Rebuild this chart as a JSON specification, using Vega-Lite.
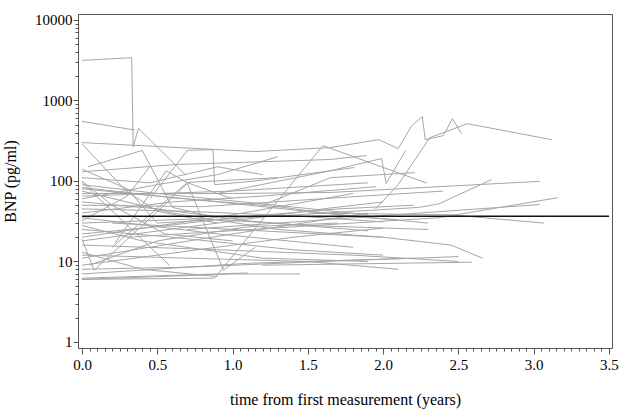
{
  "$schema": "https://vega.github.io/schema/vega-lite/v6.json",
  "width": 534,
  "height": 334,
  "autosize": {"type": "none"},
  "padding": {"left": 78, "top": 14, "right": 12, "bottom": 64},
  "background": "white",
  "config": {
    "view": {"stroke": "#555555", "strokeWidth": 1},
    "font": "Liberation Serif",
    "axis": {"labelFont": "Liberation Serif", "titleFont": "Liberation Serif", "labelColor": "#000", "titleColor": "#000", "titleFontWeight": "normal", "domainColor": "#555", "tickColor": "#555", "grid": false}
  },
  "datasets": {
    "subjects": [
      {"id": 1, "t": 0, "v": 3150}, {"id": 1, "t": 0.33, "v": 3400}, {"id": 1, "t": 0.34, "v": 265}, {"id": 1, "t": 0.375, "v": 450}, {"id": 1, "t": 0.69, "v": 118},
      {"id": 2, "t": 0, "v": 550}, {"id": 2, "t": 0.35, "v": 430},
      {"id": 3, "t": 0, "v": 300}, {"id": 3, "t": 1.15, "v": 232}, {"id": 3, "t": 1.65, "v": 260}, {"id": 3, "t": 1.97, "v": 326}, {"id": 3, "t": 2.1, "v": 253}, {"id": 3, "t": 2.19, "v": 487}, {"id": 3, "t": 2.26, "v": 630}, {"id": 3, "t": 2.28, "v": 326}, {"id": 3, "t": 2.4, "v": 366}, {"id": 3, "t": 2.46, "v": 594}, {"id": 3, "t": 2.52, "v": 388},
      {"id": 4, "t": 1.95, "v": 45}, {"id": 4, "t": 2.1, "v": 90}, {"id": 4, "t": 2.31, "v": 346}, {"id": 4, "t": 2.56, "v": 515}, {"id": 4, "t": 3.12, "v": 326},
      {"id": 5, "t": 0, "v": 6}, {"id": 5, "t": 0.88, "v": 6.2}, {"id": 5, "t": 1.6, "v": 275}, {"id": 5, "t": 2.29, "v": 94},
      {"id": 6, "t": 0, "v": 290}, {"id": 6, "t": 0.29, "v": 76}, {"id": 6, "t": 0.5, "v": 42}, {"id": 6, "t": 0.9, "v": 30},
      {"id": 7, "t": 0.45, "v": 60}, {"id": 7, "t": 0.7, "v": 240}, {"id": 7, "t": 0.87, "v": 245}, {"id": 7, "t": 0.88, "v": 90}, {"id": 7, "t": 1.15, "v": 100}, {"id": 7, "t": 1.81, "v": 147},
      {"id": 8, "t": 0, "v": 130}, {"id": 8, "t": 0.62, "v": 160}, {"id": 8, "t": 1.65, "v": 185}, {"id": 8, "t": 1.89, "v": 207},
      {"id": 9, "t": 0, "v": 70}, {"id": 9, "t": 1.0, "v": 70}, {"id": 9, "t": 1.65, "v": 72}, {"id": 9, "t": 3.04, "v": 99},
      {"id": 10, "t": 0.9, "v": 70}, {"id": 10, "t": 1.65, "v": 134}, {"id": 10, "t": 1.99, "v": 190}, {"id": 10, "t": 2.02, "v": 93}, {"id": 10, "t": 2.15, "v": 240},
      {"id": 11, "t": 1.2, "v": 50}, {"id": 11, "t": 1.65, "v": 110}, {"id": 11, "t": 2.21, "v": 127},
      {"id": 12, "t": 0.5, "v": 30}, {"id": 12, "t": 2.24, "v": 47}, {"id": 12, "t": 2.37, "v": 52}, {"id": 12, "t": 2.72, "v": 104},
      {"id": 13, "t": 0.3, "v": 20}, {"id": 13, "t": 2.37, "v": 35}, {"id": 13, "t": 3.16, "v": 62},
      {"id": 14, "t": 0.7, "v": 25}, {"id": 14, "t": 3.04, "v": 51},
      {"id": 15, "t": 1.5, "v": 40}, {"id": 15, "t": 2.45, "v": 38}, {"id": 15, "t": 3.07, "v": 30},
      {"id": 16, "t": 0.2, "v": 30}, {"id": 16, "t": 2.0, "v": 20}, {"id": 16, "t": 2.45, "v": 16}, {"id": 16, "t": 2.66, "v": 11},
      {"id": 17, "t": 1.2, "v": 9}, {"id": 17, "t": 2.59, "v": 9.8},
      {"id": 20, "t": 0, "v": 83}, {"id": 20, "t": 0.6, "v": 62}, {"id": 20, "t": 1.3, "v": 48}, {"id": 20, "t": 1.8, "v": 36}, {"id": 20, "t": 2.1, "v": 33},
      {"id": 21, "t": 0, "v": 90}, {"id": 21, "t": 0.5, "v": 70}, {"id": 21, "t": 1.2, "v": 52}, {"id": 21, "t": 1.9, "v": 38},
      {"id": 22, "t": 0, "v": 80}, {"id": 22, "t": 0.9, "v": 55}, {"id": 22, "t": 1.6, "v": 40}, {"id": 22, "t": 2.3, "v": 30},
      {"id": 23, "t": 0, "v": 20}, {"id": 23, "t": 1.0, "v": 38}, {"id": 23, "t": 1.8, "v": 70},
      {"id": 24, "t": 0, "v": 18}, {"id": 24, "t": 0.9, "v": 30}, {"id": 24, "t": 1.6, "v": 45}, {"id": 24, "t": 2.0, "v": 55},
      {"id": 25, "t": 0, "v": 6}, {"id": 25, "t": 1.0, "v": 7}, {"id": 25, "t": 1.45, "v": 7},
      {"id": 26, "t": 0, "v": 19}, {"id": 26, "t": 0.08, "v": 7.8}, {"id": 26, "t": 0.7, "v": 93}, {"id": 26, "t": 0.94, "v": 7.8}, {"id": 26, "t": 1.15, "v": 15},
      {"id": 27, "t": 0, "v": 96}, {"id": 27, "t": 0.58, "v": 9},
      {"id": 28, "t": 0.22, "v": 17}, {"id": 28, "t": 0.56, "v": 134}, {"id": 28, "t": 0.7, "v": 95}, {"id": 28, "t": 1.0, "v": 60},
      {"id": 29, "t": 0.04, "v": 150}, {"id": 29, "t": 0.4, "v": 240}, {"id": 29, "t": 0.6, "v": 47}, {"id": 29, "t": 0.9, "v": 35},
      {"id": 30, "t": 0.2, "v": 15}, {"id": 30, "t": 0.7, "v": 96}, {"id": 30, "t": 1.3, "v": 110},
      {"id": 31, "t": 0, "v": 11}, {"id": 31, "t": 1.0, "v": 22}, {"id": 31, "t": 1.9, "v": 40},
      {"id": 32, "t": 0, "v": 12}, {"id": 32, "t": 0.7, "v": 11}, {"id": 32, "t": 1.5, "v": 10}, {"id": 32, "t": 2.1, "v": 8},
      {"id": 33, "t": 0, "v": 25}, {"id": 33, "t": 0.6, "v": 20}, {"id": 33, "t": 1.4, "v": 14}, {"id": 33, "t": 2.0, "v": 12},
      {"id": 34, "t": 0, "v": 30}, {"id": 34, "t": 0.8, "v": 34}, {"id": 34, "t": 1.5, "v": 28}, {"id": 34, "t": 2.3, "v": 25},
      {"id": 35, "t": 0, "v": 45}, {"id": 35, "t": 0.7, "v": 42}, {"id": 35, "t": 1.4, "v": 37}, {"id": 35, "t": 2.0, "v": 31},
      {"id": 36, "t": 0, "v": 55}, {"id": 36, "t": 0.5, "v": 45}, {"id": 36, "t": 1.1, "v": 32}, {"id": 36, "t": 1.9, "v": 24},
      {"id": 37, "t": 0, "v": 35}, {"id": 37, "t": 0.9, "v": 22}, {"id": 37, "t": 1.8, "v": 15},
      {"id": 38, "t": 0, "v": 28}, {"id": 38, "t": 0.4, "v": 18}, {"id": 38, "t": 1.2, "v": 11}, {"id": 38, "t": 1.9, "v": 10},
      {"id": 39, "t": 0, "v": 16}, {"id": 39, "t": 0.9, "v": 14}, {"id": 39, "t": 1.8, "v": 12}, {"id": 39, "t": 2.5, "v": 10},
      {"id": 40, "t": 0, "v": 9}, {"id": 40, "t": 0.5, "v": 12}, {"id": 40, "t": 1.4, "v": 20}, {"id": 40, "t": 2.0, "v": 26},
      {"id": 41, "t": 0, "v": 7}, {"id": 41, "t": 1.1, "v": 9.5}, {"id": 41, "t": 2.2, "v": 11},
      {"id": 42, "t": 0, "v": 60}, {"id": 42, "t": 0.5, "v": 90}, {"id": 42, "t": 0.9, "v": 120}, {"id": 42, "t": 1.3, "v": 200},
      {"id": 43, "t": 0, "v": 40}, {"id": 43, "t": 0.6, "v": 55}, {"id": 43, "t": 1.2, "v": 65}, {"id": 43, "t": 1.95, "v": 85},
      {"id": 44, "t": 0, "v": 50}, {"id": 44, "t": 0.8, "v": 48}, {"id": 44, "t": 1.7, "v": 62}, {"id": 44, "t": 2.4, "v": 75},
      {"id": 45, "t": 0, "v": 140}, {"id": 45, "t": 0.3, "v": 80}, {"id": 45, "t": 0.5, "v": 30},
      {"id": 46, "t": 0, "v": 100}, {"id": 46, "t": 0.2, "v": 50}, {"id": 46, "t": 0.55, "v": 22}, {"id": 46, "t": 1.0, "v": 18},
      {"id": 47, "t": 0, "v": 75}, {"id": 47, "t": 0.6, "v": 40}, {"id": 47, "t": 1.3, "v": 25}, {"id": 47, "t": 2.0, "v": 20},
      {"id": 48, "t": 0.05, "v": 9}, {"id": 48, "t": 0.5, "v": 18}, {"id": 48, "t": 1.1, "v": 27}, {"id": 48, "t": 1.7, "v": 30},
      {"id": 49, "t": 0, "v": 22}, {"id": 49, "t": 0.5, "v": 27}, {"id": 49, "t": 1.0, "v": 35}, {"id": 49, "t": 1.7, "v": 45}, {"id": 49, "t": 2.2, "v": 50},
      {"id": 50, "t": 0, "v": 13}, {"id": 50, "t": 0.4, "v": 8}, {"id": 50, "t": 0.9, "v": 6.5},
      {"id": 51, "t": 0, "v": 8}, {"id": 51, "t": 0.7, "v": 8.5}, {"id": 51, "t": 1.6, "v": 10}, {"id": 51, "t": 2.5, "v": 11.5},
      {"id": 52, "t": 0, "v": 6.2}, {"id": 52, "t": 1.1, "v": 7.2},
      {"id": 53, "t": 0, "v": 110}, {"id": 53, "t": 0.45, "v": 95}, {"id": 53, "t": 0.9, "v": 150}, {"id": 53, "t": 1.2, "v": 120},
      {"id": 54, "t": 0, "v": 32}, {"id": 54, "t": 0.3, "v": 65}, {"id": 54, "t": 0.45, "v": 150},
      {"id": 55, "t": 0, "v": 65}, {"id": 55, "t": 1.0, "v": 75}, {"id": 55, "t": 1.9, "v": 95}
    ],
    "mean": [{"t": 0, "v": 36.5}, {"t": 3.5, "v": 36.5}]
  },
  "layer": [
    {
      "data": {"name": "subjects"},
      "mark": {"type": "line", "color": "#a6a6a6", "strokeWidth": 1},
      "encoding": {
        "x": {
          "field": "t", "type": "quantitative",
          "scale": {"domain": [-0.0266, 3.52], "nice": false, "zero": false},
          "axis": {
            "values": [0,0.05,0.1,0.15,0.2,0.25,0.3,0.35,0.4,0.45,0.5,0.55,0.6,0.65,0.7,0.75,0.8,0.85,0.9,0.95,1,1.05,1.1,1.15,1.2,1.25,1.3,1.35,1.4,1.45,1.5,1.55,1.6,1.65,1.7,1.75,1.8,1.85,1.9,1.95,2,2.05,2.1,2.15,2.2,2.25,2.3,2.35,2.4,2.45,2.5,2.55,2.6,2.65,2.7,2.75,2.8,2.85,2.9,2.95,3,3.05,3.1,3.15,3.2,3.25,3.3,3.35,3.4,3.45,3.5],
            "tickCount": 200,
            "labelExpr": "abs(datum.value*2 - round(datum.value*2)) < 0.001 ? format(datum.value, '.1f') : ''",
            "tickSize": {"condition": {"test": "abs(datum.value*2 - round(datum.value*2)) < 0.001", "value": 6}, "value": 3},
            "title": "time from first measurement (years)", "labelFontSize": 15, "titleFontSize": 16, "labelPadding": 3, "titlePadding": 19, "domain": false, "labelFlush": false, "labelOverlap": false
          }
        },
        "y": {
          "field": "v", "type": "quantitative",
          "scale": {"type": "log", "domain": [0.842, 11870], "nice": false},
          "axis": {
            "values": [1,2,3,4,5,6,7,8,9,10,20,30,40,50,60,70,80,90,100,200,300,400,500,600,700,800,900,1000,2000,3000,4000,5000,6000,7000,8000,9000,10000],
            "tickCount": 200,
            "labelExpr": "indexof([1,10,100,1000,10000], datum.value) >= 0 ? format(datum.value, 'd') : ''",
            "tickSize": {"condition": {"test": "indexof([1,10,100,1000,10000], datum.value) >= 0", "value": 5}, "value": 3},
            "title": "BNP (pg/ml)", "labelFontSize": 15, "titleFontSize": 16, "labelPadding": 1, "titlePadding": 16, "domain": false, "labelOverlap": false
          }
        },
        "detail": {"field": "id", "type": "nominal"}
      }
    },
    {
      "data": {"name": "mean"},
      "mark": {"type": "line", "color": "#111111", "strokeWidth": 1.6},
      "encoding": {
        "x": {"field": "t", "type": "quantitative"},
        "y": {"field": "v", "type": "quantitative"}
      }
    }
  ]
}
